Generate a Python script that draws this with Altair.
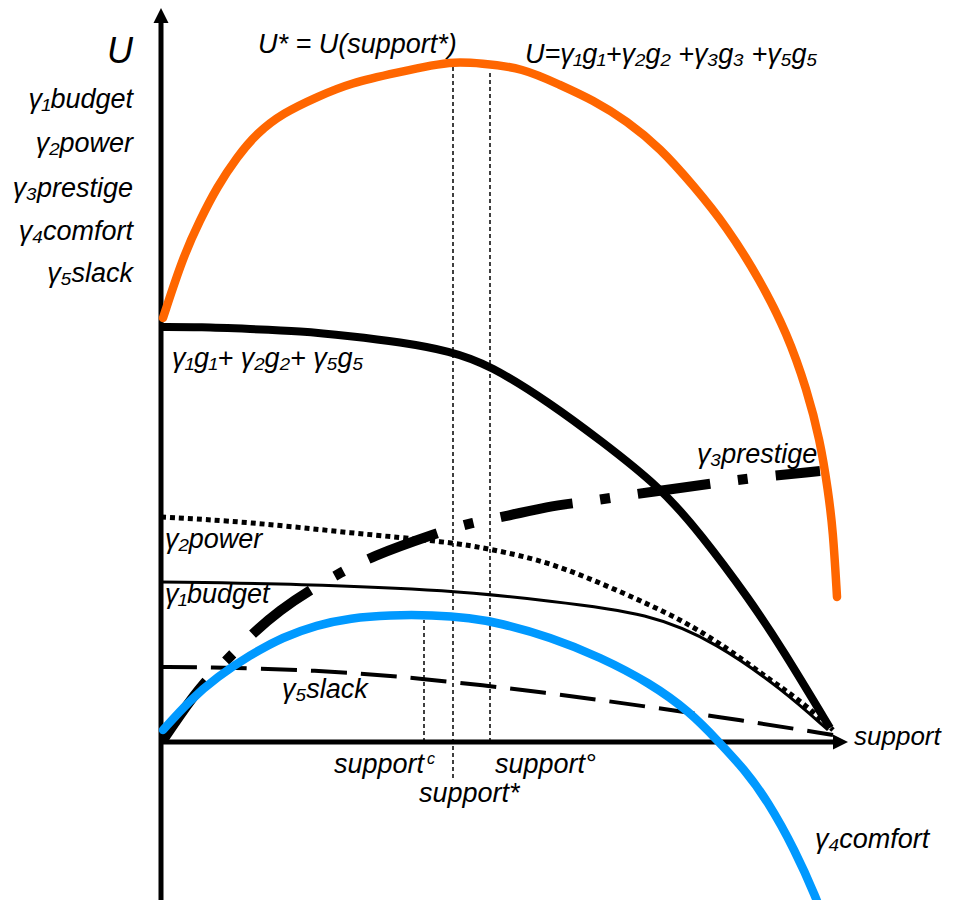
import altair as alt
import pandas as pd

# ---- curves (support on x, U on y, arbitrary units) ----
total_u_x = [2, 22, 39, 56, 76, 96, 122, 156, 189, 239, 272, 292, 319, 362, 399, 432, 466, 499, 532, 566, 599, 626, 646, 659, 667, 672, 676]
total_u_y = [424, 485, 522, 555, 585, 609, 629, 645, 659, 670, 677, 680, 679, 674, 657, 642, 621, 594, 557, 515, 462, 409, 352, 302, 252, 212, 145]

sum125_x = [0, 39, 89, 139, 189, 239, 289, 329, 389, 439, 499, 539, 589, 622, 669]
sum125_y = [415, 415, 413, 411, 406, 400, 391, 377, 339, 302, 255, 209, 142, 92, 14]

power_x = [0, 89, 189, 289, 329, 389, 456, 522, 569, 609, 639, 672]
power_y = [225, 220, 209, 200, 193, 180, 152, 122, 92, 62, 42, 12]

budget_x = [0, 139, 289, 389, 489, 556, 622, 667]
budget_y = [160, 158, 152, 141, 129, 99, 52, 12]

prestige_x = [2, 19, 42, 69, 92, 119, 149, 179, 209, 276, 309, 342, 389, 416, 449, 489, 556, 589, 659]
prestige_y = [2, 27, 59, 85, 109, 132, 152, 169, 185, 209, 219, 225, 236, 239, 244, 250, 259, 264, 271]

slack_x = [0, 39, 156, 259, 389, 489, 579, 672]
slack_y = [75, 75, 72, 64, 49, 35, 22, 7]

comfort_x = [2, 29, 56, 89, 122, 156, 189, 229, 272, 309, 339, 389, 439, 489, 529, 556, 584, 606, 634, 656, 662]
comfort_y = [12, 42, 65, 87, 105, 117, 124, 127, 127, 124, 119, 105, 85, 59, 30, 2, -28, -58, -108, -158, -175]

# reference support levels (vertical dotted guides)
guide_names = ["support_c", "support_star", "support_deg"]
guide_x = [263, 292, 329]
guide_y0 = [0, -36, 0]
guide_y1 = [122, 680, 669]

# axes
axis_top = 722
axis_bottom = -170
axis_right = 676

# labels
left_labels = ["γ₁budget", "γ₂power", "γ₃prestige", "γ₄comfort", "γ₅slack"]
left_label_y = [634, 590, 545, 502, 460]

XS = alt.Scale(domain=[-153, 784], nice=False, zero=False)
YS = alt.Scale(domain=[-158, 734], nice=False, zero=False)
FONT = "Liberation Sans"


def curve_df(xs, ys):
    return pd.DataFrame({"support": xs, "U": ys, "i": range(len(xs))})


def line(xs, ys, **kw):
    return alt.Chart(curve_df(xs, ys)).mark_line(clip=True, interpolate="basis", **kw).encode(
        x=alt.X("support:Q", scale=XS, axis=None),
        y=alt.Y("U:Q", scale=YS, axis=None),
        order="i:Q",
    )


layers = []

# axes lines
axes_df = pd.DataFrame({
    "x": [0, 0], "x2": [0, axis_right], "y": [axis_bottom, 0], "y2": [axis_top, 0]
})
layers.append(
    alt.Chart(axes_df).mark_rule(color="black", strokeWidth=5, clip=True).encode(
        x=alt.X("x:Q", scale=XS, axis=None), x2="x2:Q",
        y=alt.Y("y:Q", scale=YS, axis=None), y2="y2:Q",
    )
)
arrow_up = pd.DataFrame({"x": [0], "y": [726.5]})
arrow_right = pd.DataFrame({"x": [679.5], "y": [0]})
layers.append(
    alt.Chart(arrow_up).mark_point(shape="M0,-1L1,1L-1,1Z", filled=True, color="black",
                                   opacity=1, size=225).encode(
        x=alt.X("x:Q", scale=XS, axis=None), y=alt.Y("y:Q", scale=YS, axis=None))
)
layers.append(
    alt.Chart(arrow_right).mark_point(shape="M1,0L-1,-1L-1,1Z", filled=True, color="black",
                                      opacity=1, size=225).encode(
        x=alt.X("x:Q", scale=XS, axis=None), y=alt.Y("y:Q", scale=YS, axis=None))
)

# guides
guides_df = pd.DataFrame({"name": guide_names, "x": guide_x, "y": guide_y0, "y2": guide_y1})
layers.append(
    alt.Chart(guides_df).mark_rule(color="black", strokeWidth=1.5, strokeDash=[4, 3]).encode(
        x=alt.X("x:Q", scale=XS, axis=None),
        y=alt.Y("y:Q", scale=YS, axis=None), y2="y2:Q",
    )
)

# curves
layers.append(line(slack_x, slack_y, color="black", strokeWidth=4, strokeDash=[36, 14]))
layers.append(line(budget_x, budget_y, color="black", strokeWidth=3))
layers.append(line(power_x, power_y, color="black", strokeWidth=5, strokeDash=[5, 4]))
layers.append(line(prestige_x, prestige_y, color="black", strokeWidth=10, strokeDash=[73, 28, 10, 28]))
layers.append(line(sum125_x, sum125_y, color="black", strokeWidth=8))
layers.append(line(comfort_x, comfort_y, color="#0099ff", strokeWidth=8.5, strokeCap="round"))
layers.append(line(total_u_x, total_u_y, color="#ff6600", strokeWidth=8.5, strokeCap="round"))

# text labels
right_df = pd.DataFrame({
    "text": ["U"] + left_labels,
    "x": [-28] * (1 + len(left_labels)),
    "y": [679] + left_label_y,
    "size": [36] + [27] * len(left_labels),
})
layers.append(
    alt.Chart(right_df).mark_text(align="right", baseline="alphabetic", font=FONT,
                                  fontStyle="italic", color="black").encode(
        x=alt.X("x:Q", scale=XS, axis=None), y=alt.Y("y:Q", scale=YS, axis=None),
        text="text:N", size=alt.Size("size:Q", scale=None, legend=None))
)

left_texts = ["U* = U(support*)", "U=γ₁g₁+γ₂g₂ +γ₃g₃ +γ₅g₅", "γ₁g₁+ γ₂g₂+ γ₅g₅", "γ₃prestige",
              "γ₂power", "γ₁budget", "γ₅slack", "support", "c", "support*", "support°",
              "support", "γ₄comfort"]
left_x = [97, 364, 11, 536, 4, 4, 121, 173, 266, 258, 334, 693, 654]
left_y = [689, 679, 375, 279, 194, 139, 44, -31, -22, -60, -31, -3, -106]
left_size = [27, 27, 27, 27, 27, 27, 27, 27, 16, 27, 27, 26, 27]
left_df = pd.DataFrame({"text": left_texts, "x": left_x, "y": left_y, "size": left_size})
layers.append(
    alt.Chart(left_df).mark_text(align="left", baseline="alphabetic", font=FONT,
                                 fontStyle="italic", color="black").encode(
        x=alt.X("x:Q", scale=XS, axis=None), y=alt.Y("y:Q", scale=YS, axis=None),
        text="text:N", size=alt.Size("size:Q", scale=None, legend=None))
)

chart = alt.layer(*layers).properties(
    width=937, height=892, padding=0, autosize="none"
).configure_view(stroke=None)

chart.save("out.html", embed_options={"renderer": "svg", "actions": False})
